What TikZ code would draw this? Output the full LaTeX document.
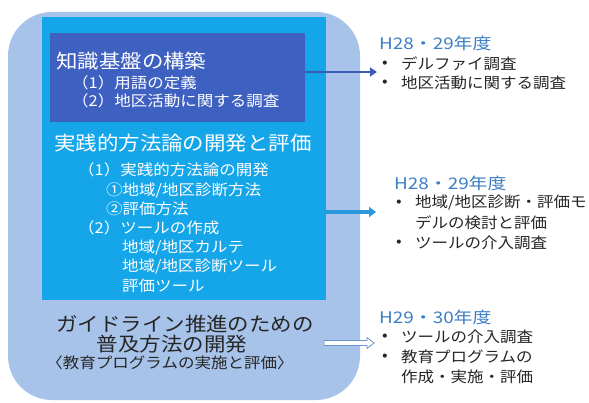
\documentclass[tikz,border=0pt]{standalone}
\usepackage{fontspec}
\setmainfont{Noto Sans CJK JP}
\newfontfamily\wf[FakeStretch=1.1]{Noto Sans CJK JP}
\newfontfamily\yf[FakeStretch=1.18]{Noto Sans CJK JP}
\usetikzlibrary{arrows.meta,calc}
\definecolor{outerc}{HTML}{A7C3E9}
\definecolor{cyanc}{HTML}{15A6EA}
\definecolor{darkc}{HTML}{3E61C1}
\definecolor{yearc}{HTML}{3C7DC4}
\definecolor{textc}{HTML}{262626}
\definecolor{arr1}{HTML}{3D5CB8}
\definecolor{arr2}{HTML}{2B98DE}
\definecolor{arr3}{HTML}{6A94D2}
\tikzset{
  big/.style={inner sep=0pt, font=\wf\fontsize{19.5pt}{22pt}\selectfont},
  mid/.style={inner sep=0pt, font=\wf\fontsize{15pt}{18pt}\selectfont},
  wtxt/.style={text=white},
  dtxt/.style={text=textc},
  yr/.style={inner sep=0pt, font=\yf\fontsize{16pt}{18pt}\selectfont, anchor=west, text=yearc},
  item/.style={mid, anchor=west, text=textc},
  bul/.style={mid, anchor=center, text=textc},
}
\begin{document}
\begin{tikzpicture}[x=1pt,y=-1pt]
\fill[white] (0,0) rectangle (589,403);
\useasboundingbox (0,0) rectangle (589,403);
% boxes
\node[minimum width=352pt, minimum height=388pt, rounded corners=44pt, fill=outerc, inner sep=0pt] (outer) at (184,206) {};
\node[minimum width=284pt, minimum height=283pt, fill=cyanc, inner sep=0pt] (cyanbox) at (184,158.5) {};
\node[minimum width=255pt, minimum height=89pt, fill=darkc, inner sep=0pt] (darkbox) at (177.5,77.5) {};
% left texts
\node[big, wtxt, anchor=west] (t1) at (56,61) {知識基盤の構築};
\node[mid, wtxt, anchor=west] (t1a) at (72,83) {（1）用語の定義};
\node[mid, wtxt, anchor=west] (t1b) at (72,101) {（2）地区活動に関する調査};
\node[big, wtxt, anchor=west] (t2) at (54,143) {実践的方法論の開発と評価};
\node[mid, wtxt, anchor=west] (t2a) at (78,170) {（1）実践的方法論の開発};
\node[mid, wtxt, anchor=west] (t2b) at (106,190) {①地域/地区診断方法};
\node[mid, wtxt, anchor=west] (t2c) at (106,209) {②評価方法};
\node[mid, wtxt, anchor=west] (t2d) at (78,228) {（2）ツールの作成};
\node[mid, wtxt, anchor=west] (t2e) at (122,248) {地域/地区カルテ};
\node[mid, wtxt, anchor=west] (t2f) at (122,267) {地域/地区診断ツール};
\node[mid, wtxt, anchor=west] (t2g) at (122,286) {評価ツール};
\node[big, dtxt] (t3) at (185,324) {ガイドライン推進のための};
\node[big, dtxt] (t3a) at (172,344) {普及方法の開発};
\node[mid, dtxt] (t3b) at (170,363) {〈教育プログラムの実施と評価〉};
% right texts
\node[yr] (y1) at (379,43) {H28・29年度};
\node[bul] (b1a) at (385,64) {•};
\node[item] (i1a) at (401,64) {デルファイ調査};
\node[bul] (b1b) at (385,83) {•};
\node[item] (i1b) at (401,83) {地区活動に関する調査};
\node[yr] (y2) at (394,183) {H28・29年度};
\node[bul] (b2a) at (399,203) {•};
\node[item] (i2a) at (415,203) {地域/地区診断・評価モ};
\node[item] (i2b) at (415,223) {デルの検討と評価};
\node[bul] (b2c) at (399,243) {•};
\node[item] (i2c) at (415,243) {ツールの介入調査};
\node[yr] (y3) at (379,317) {H29・30年度};
\node[bul] (b3a) at (385,337) {•};
\node[item] (i3a) at (401,337) {ツールの介入調査};
\node[bul] (b3b) at (385,357) {•};
\node[item] (i3b) at (401,357) {教育プログラムの};
\node[item] (i3c) at (401,377) {作成・実施・評価};
% arrows
\coordinate (e1) at (377,72);
\coordinate (e2) at (376,212);
\coordinate (s3) at (324,343);
\coordinate (e3) at (374,343);
\draw[arr1, line width=2.6pt, -{Triangle[length=7pt,width=9pt]}] (darkbox.east |- e1) -- (e1);
\draw[arr2, line width=3.5pt, -{Triangle[length=7pt,width=10pt]}] (cyanbox.east |- e2) -- (e2);
\draw[arr3, line width=0.8pt, fill=white] ($(s3)+(0,-2.5)$) -- ($(e3)+(-7,-2.5)$) -- ($(e3)+(-7,-5.5)$) -- (e3) -- ($(e3)+(-7,5.5)$) -- ($(e3)+(-7,2.5)$) -- ($(s3)+(0,2.5)$) -- cycle;
\end{tikzpicture}
\end{document}
